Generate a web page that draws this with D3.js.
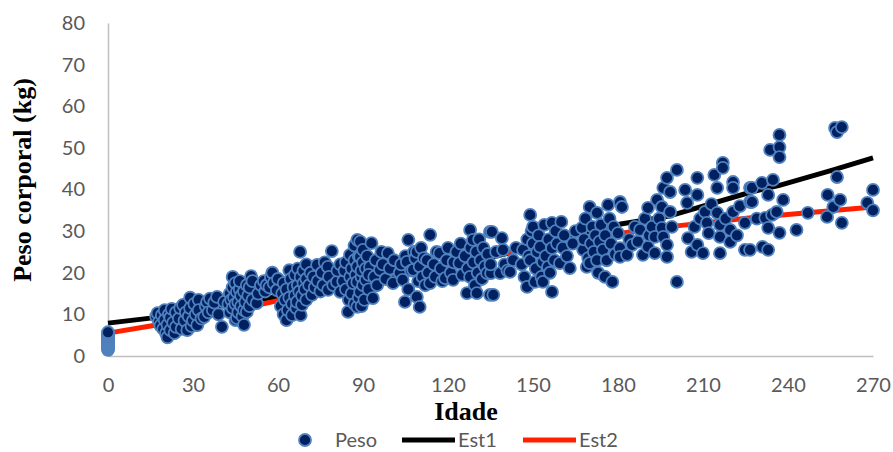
<!DOCTYPE html>
<html>
<head>
<meta charset="utf-8">
<script src="https://cdn.jsdelivr.net/npm/d3@7"></script>
<style>
  body { margin: 0; background: #fff; }
  .tick text { font-family: Lato, "Open Sans", sans-serif; font-size: 20px; fill: #595959; }
  .axis path.domain { stroke: #bfbfbf; stroke-width: 1.5px; }
  .title { font-family: "Liberation Serif", "Times New Roman", serif; font-weight: bold; font-size: 26px; fill: #000; }
  .legend text { font-family: Lato, "Open Sans", sans-serif; font-size: 20px; fill: #595959; }
</style>
</head>
<body>
<svg id="chart" width="893" height="452"></svg>
<script>
// Peso corporal (kg) por idade - [idade, peso]
var pesoPontos = [
  // idade 0
  [0,1.5],[0,1.8],[0,2.1],[0,2.4],[0,2.7],[0,3.0],[0,3.3],[0,3.6],[0,3.9],[0,4.2],[0,4.5],[0,4.8],[0,5.1],[0,5.4],[0,5.7],
  // 17-33
  [17,9.5],[17.5,10.3],[18,8.2],[18.5,7.3],[19,9.8],[19.5,6.5],[20,11],[20,8.7],[20.5,5.5],[21,4.5],[21,7.5],[21.5,10],
  [22,6.2],[22,9.2],[22.5,11.3],[23,8],[23.5,5.5],[24,10.5],[24,7],[25,9],[25.5,11.5],[26,6.5],[26.5,12.3],[27,8.5],
  [27.5,10.5],[28,6.2],[28.5,9.5],[29,11.5],[29,14],[29.5,7.2],[30,8.5],[30.5,12.5],[31,10],[31.5,7.4],[32,13.5],[32,11],[33,9],
  // 34-41
  [34,9.4],[34.5,12],[35,13],[35.5,10.5],[36,13.8],[37,11],[37.5,12.8],[38.5,14.2],[39,10],[40.2,7],[41,13],
  // 42-51
  [42.5,12.5],[43,15],[43,10.5],[43.5,13.5],[44,19],[44,16.5],[44,11.5],[44.5,14],[45,8.6],[45,12.5],[45,17.5],[45.5,15.4],
  [45.5,9.1],[46,13],[46,10.5],[46.5,16],[46.5,18],[47,12],[47,14.5],[47.5,9.5],[48,7.5],[48,11],[48,15.5],[48.5,13],
  [49,10.6],[49,17],[49.5,14.5],[50,12],[50,16.5],[50.5,19.2],[51,13.5],[51,18],
  // 52-60
  [52.5,12.7],[53,15],[54,17],[55,18],[55.5,15.5],[56,17],[57,16.5],[57.5,19],[58,20],[58.5,17.5],[59.6,15.8],[60,18.5],
  // 61-70
  [61,12],[61.5,15],[62,10],[62,17.5],[62.5,13.5],[63,8.6],[63,16],[63.5,11],[64,20.6],[64,14],[64.5,18.5],[65,12.5],
  [65,9.8],[65.5,16.5],[66,19.5],[66,14.5],[66.5,11.5],[66.7,13],[67,17],[67,21],[67.5,15.5],[67.8,25],[68,9.8],[68,19],
  [68.5,12.3],[68.5,14.5],[69,17.5],[69,20.5],[69.5,16],[70,13.5],[70,18.5],[70,22],
  // 71-82
  [71,17],[71.5,20],[72,14.7],[72.5,19],[73,16.5],[73.8,21.9],[74,18],[75,15.5],[75.5,20],[76,17],[76.5,22.5],[77.6,21.4],
  [77.7,15.9],[78,19],[79,25.2],[79.5,17],[80.8,17.8],[81,20.5],[82,15.4],[82,22],
  // 83-92
  [83,18],[83.5,20.5],[84,16],[84,22.5],[84.7,10.6],[85,13.5],[85.4,24.3],[85.5,19],[86,15],[86,21],[86.5,17.5],[87,12.5],
  [87,23],[87,26.5],[87.5,19.5],[88,27.9],[88,11.8],[88,17.8],[88,21.5],[88.5,14],[88.5,24],[89,15.4],[89,23.8],[89,27.5],
  [89.5,12],[89.5,19],[89.5,20.5],[90,17],[90,22.5],[90,25.5],[90.5,13.5],[91,18.3],[91,21],[91.5,24],[92,16],[92.5,21.4],[92,19.5],
  // 93-101
  [93,27.1],[93.5,13.9],[94,19],[94.5,23],[95,17],[96,20.7],[96.5,25],[97,22],[98,18.5],[98.8,24.7],[99.5,21],[100.6,17.5],[101,23],
  // 103-113
  [103,20],[103.5,22],[104,18.3],[104.8,13],[105,24],[105.5,22.6],[106,27.9],[106,16],[107,20.5],[107.7,20.7],[108,25],
  [108.5,23.5],[109,14.2],[109,25],[109.5,18],[110,11.8],[110,21.5],[110.5,26],[111,19],[111.5,23.5],[112,17],[112.6,23],
  [113,20],[113.7,17.5],[113.7,29.1],
  // 115-125
  [115,22],[115.5,19],[116,25],[117,24.7],[117.5,21],[118,18],[119,18.7],[119.5,23],[120,26],[121,20],[121.8,18.3],
  [122,22.5],[123,25],[124,22.3],[124.5,27],[125,19.5],
  // 126-136
  [126,24],[126.7,15.1],[127,21],[127.8,30.3],[127.8,19],[128,26],[128.8,27.9],[129,22.5],[129.5,17],[130,25],[130.2,15.1],
  [130.5,20],[131,28],[131.5,23],[132,18.5],[132.5,26],[133,21.5],[133.8,19.9],[134,24.5],[134.8,29.8],[134.8,14.7],
  [135.2,19.9],[135.5,29.8],[135,22],[136,14.7],
  // 137-145
  [137,25],[138.4,19.9],[139,28.3],[139.4,25.5],[140,22],[141,20.5],[141.9,20.2],[143,23],[144,26],
  // 146-158
  [146,22],[146.5,25.5],[147,19],[147.9,16.6],[148,28],[148.5,24],[149,33.9],[149,23],[149.5,30],[150,31],[150,27],
  [150.7,17.8],[151,21],[151.5,25],[152,29],[152.5,26.2],[153,19],[153.5,17.8],[153.5,22.6],[154,31.5],[154.5,24],
  [155.3,21.4],[155.5,28],[156,20],[156.7,32],[156.7,25.9],[156.7,15.4],[157.5,23],[158,30],[158.5,27],
  // 159-166
  [159.5,22.3],[160,32.2],[160.5,26],[161,29],[162,24],[163,21.1],[164,27],[165,30],
  // 167-181
  [167.3,30.8],[167.7,25.5],[168,28],[168.5,33],[169,21.4],[169.5,23.5],[170,35.8],[170,22.3],[170.5,27],[171,31],
  [171.5,25],[172,29],[172.6,34.4],[172.6,23],[173,20],[173.5,27.5],[174,31.5],[174.7,25.5],[175.4,19],[175.5,29],
  [176,23],[176.5,36.3],[177,33],[177.5,27],[178,17.8],[178.5,31],[179,24.5],[180,29.5],[180.7,37],[180.7,25.9],
  [180.7,23.8],[181.4,35.8],
  // 182-200
  [183.2,24.3],[184,28],[185,26.7],[186,31],[187,27.5],[187.8,30.3],[188.8,24.3],[189.5,33],[190.6,35.6],[190.6,26.2],
  [191,29],[192,31],[193,28.6],[193,24.7],[193.8,37.5],[194.5,33],[195.5,35.8],[195.5,30.8],[196,40.4],[196,28.6],
  [197.3,42.8],[197.3,26.7],[197.3,23.8],[198.4,39.4],[198.4,34.6],[199,31],[200.8,44.7],[200.8,17.8],
  // 203-227
  [203.7,39.9],[204.4,36.8],[204.7,28.3],[206,25],[207,31],[208,42.8],[208,38.7],[208,26.7],[209,33],[210,24.7],
  [210.7,34.6],[211.4,32],[212,29.5],[213,36.5],[214,43.5],[215,40.4],[215,34.4],[216,31.5],[216,28.6],[216,24.7],
  [217,46.4],[217,45.2],[218,33],[219.6,30.3],[219.6,27.4],[220.6,41.8],[220.6,40.4],[220.6,34.6],[222,29],[223,36],
  [224.8,32],[224.8,25.5],[226.6,40.4],[226.6,37],[226.6,25.5],
  // 227-240
  [227.3,40.4],[227.3,37],[229,33],[230.8,41.6],[231,26.2],[232,33.2],[233,38.7],[233,30.8],[233,25.5],[233.7,49.5],
  [234.4,33.9],[234.7,42.3],[236,34.6],[237,53.1],[237,50.2],[237,47.8],[237,29.6],[238.3,37.5],
  // 241-270
  [243,30.3],[247,34.4],[253.8,33.4],[254,38.7],[256,35.8],[256.6,54.8],[257.3,53.8],[257.3,43],[258.4,37.5],[259,55],[259,32],
  [268,36.8],[270,39.9],[270,35]
];

// Est1 and Est2 curves
var estIdades = [0, 15, 40, 60, 80, 103, 120, 140, 158, 181, 198, 227, 237, 256, 270];
var est1 = [7.9, 9.1, 12, 14.3, 16.7, 19.5, 21.4, 24.5, 27.9, 31.7, 33.6, 39.4, 41, 44.7, 47.6];
var est2Idades = [0, 15, 40, 58, 80, 103, 120, 140, 160, 181, 200, 227, 250, 270];
var est2 = [5.5, 7.2, 10.3, 13, 16.5, 20.2, 22.6, 24.7, 26.8, 29.5, 31.2, 33.2, 34.6, 35.8];

var xTicks = [0, 30, 60, 90, 120, 150, 180, 210, 240, 270];
var yTicks = [0, 10, 20, 30, 40, 50, 60, 70, 80];
var legendLabels = ["Peso", "Est1", "Est2"];

var svg = d3.select("#chart");

var xScale = d3.scaleLinear().domain([0, 270]).range([108, 873]);
var yScale = d3.scaleLinear().domain([0, 80]).range([356, 23]);

// axes
var yAxis = d3.axisLeft(yScale).tickValues(yTicks).tickSize(0).tickSizeOuter(0).tickPadding(23);
svg.append("g").attr("class", "axis")
  .attr("transform", "translate(108,0)")
  .call(yAxis);

var xAxis = d3.axisBottom(xScale).tickValues(xTicks).tickSize(0).tickSizeOuter(0).tickPadding(22);
svg.append("g").attr("class", "axis")
  .attr("transform", "translate(0,356)")
  .call(xAxis);

// fitted lines (drawn under the points)
var line = d3.line()
  .x(function (d) { return xScale(d[0]); })
  .y(function (d) { return yScale(d[1]); });

svg.append("path")
  .datum(estIdades.map(function (a, i) { return [a, est1[i]]; }))
  .attr("d", line)
  .attr("fill", "none")
  .attr("stroke", "#000")
  .attr("stroke-width", 5);

svg.append("path")
  .datum(est2Idades.map(function (a, i) { return [a, est2[i]]; }))
  .attr("d", line)
  .attr("fill", "none")
  .attr("stroke", "#ff2000")
  .attr("stroke-width", 5);

// points
svg.append("g").selectAll("circle")
  .data(pesoPontos)
  .enter().append("circle")
  .attr("cx", function (d) { return xScale(d[0]); })
  .attr("cy", function (d) { return yScale(d[1]); })
  .attr("r", 6)
  .attr("fill", "#002060")
  .attr("stroke", "#4f81bd")
  .attr("stroke-width", 1.8);

// axis titles
svg.append("text").attr("class", "title")
  .attr("x", 466).attr("y", 420)
  .attr("text-anchor", "middle")
  .text("Idade");

svg.append("text").attr("class", "title")
  .attr("transform", "translate(31,180) rotate(-90)")
  .attr("text-anchor", "middle")
  .text("Peso corporal (kg)");

// legend
var legend = svg.append("g").attr("class", "legend");
var legendX = [305, 402, 523];

legend.append("circle")
  .attr("cx", legendX[0]).attr("cy", 440).attr("r", 6)
  .attr("fill", "#002060").attr("stroke", "#4f81bd").attr("stroke-width", 1.8);

legend.append("line")
  .attr("x1", legendX[1]).attr("x2", legendX[1] + 53).attr("y1", 440).attr("y2", 440)
  .attr("stroke", "#000").attr("stroke-width", 5);

legend.append("line")
  .attr("x1", legendX[2]).attr("x2", legendX[2] + 53).attr("y1", 440).attr("y2", 440)
  .attr("stroke", "#ff2000").attr("stroke-width", 5);

legend.selectAll("text.lbl")
  .data(legendLabels)
  .enter().append("text")
  .attr("class", "lbl")
  .attr("x", function (d, i) { return i === 0 ? legendX[0] + 30 : legendX[i] + 56; })
  .attr("y", 447)
  .text(function (d) { return d; });
</script>
</body>
</html>
